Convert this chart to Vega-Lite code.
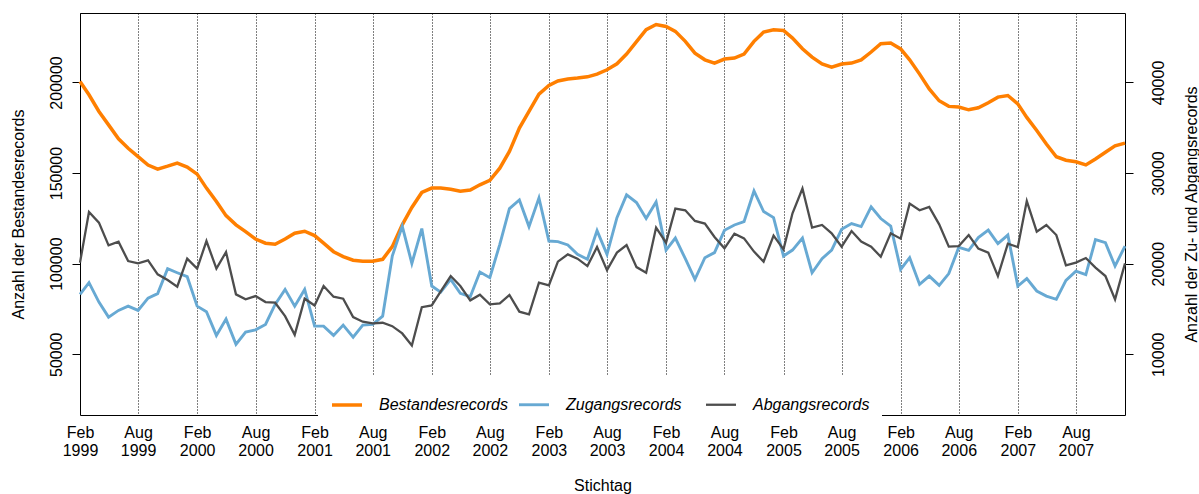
{
  "$schema": "https://vega.github.io/schema/vega-lite/v6.json",
  "width": 1045,
  "height": 402,
  "autosize": {"type": "none"},
  "padding": {"left": 80, "top": 13, "right": 74, "bottom": 79},
  "background": "white",
  "config": {
    "view": {"stroke": null},
    "font": "Liberation Sans",
    "axis": {"domainColor": "black", "tickColor": "black", "labelColor": "black", "titleColor": "black", "labelFont": "Liberation Sans", "titleFont": "Liberation Sans", "labelFontSize": 16, "titleFontSize": 16, "titleFontWeight": "normal"},
    "legend": {"labelFont": "Liberation Sans"}
  },
  "data": {
    "format": {"parse": {"d": "date:'%Y-%m'"}},
    "values": [
      {"d":"1999-02","Bestandesrecords":200500,"Zugangsrecords":16610,"Abgangsrecords":20110},
      {"d":"1999-03","Bestandesrecords":193200,"Zugangsrecords":17900,"Abgangsrecords":25700},
      {"d":"1999-04","Bestandesrecords":184000,"Zugangsrecords":15760,"Abgangsrecords":24530},
      {"d":"1999-05","Bestandesrecords":176600,"Zugangsrecords":14100,"Abgangsrecords":22020},
      {"d":"1999-06","Bestandesrecords":168900,"Zugangsrecords":14840,"Abgangsrecords":22430},
      {"d":"1999-07","Bestandesrecords":163700,"Zugangsrecords":15310,"Abgangsrecords":20290},
      {"d":"1999-08","Bestandesrecords":159100,"Zugangsrecords":14840,"Abgangsrecords":20030},
      {"d":"1999-09","Bestandesrecords":154400,"Zugangsrecords":16200,"Abgangsrecords":20360},
      {"d":"1999-10","Bestandesrecords":152200,"Zugangsrecords":16690,"Abgangsrecords":18820},
      {"d":"1999-11","Bestandesrecords":153800,"Zugangsrecords":19450,"Abgangsrecords":18190},
      {"d":"1999-12","Bestandesrecords":155500,"Zugangsrecords":19000,"Abgangsrecords":17460},
      {"d":"2000-01","Bestandesrecords":153300,"Zugangsrecords":18560,"Abgangsrecords":20550},
      {"d":"2000-02","Bestandesrecords":149400,"Zugangsrecords":15310,"Abgangsrecords":19450},
      {"d":"2000-03","Bestandesrecords":141700,"Zugangsrecords":14700,"Abgangsrecords":22500},
      {"d":"2000-04","Bestandesrecords":134300,"Zugangsrecords":12080,"Abgangsrecords":19450},
      {"d":"2000-05","Bestandesrecords":126500,"Zugangsrecords":13880,"Abgangsrecords":21280},
      {"d":"2000-06","Bestandesrecords":121400,"Zugangsrecords":11090,"Abgangsrecords":16610},
      {"d":"2000-07","Bestandesrecords":117700,"Zugangsrecords":12450,"Abgangsrecords":16060},
      {"d":"2000-08","Bestandesrecords":113600,"Zugangsrecords":12700,"Abgangsrecords":16420},
      {"d":"2000-09","Bestandesrecords":111300,"Zugangsrecords":13290,"Abgangsrecords":15760},
      {"d":"2000-10","Bestandesrecords":110700,"Zugangsrecords":15500,"Abgangsrecords":15690},
      {"d":"2000-11","Bestandesrecords":113600,"Zugangsrecords":17160,"Abgangsrecords":14210},
      {"d":"2000-12","Bestandesrecords":116800,"Zugangsrecords":15310,"Abgangsrecords":12150},
      {"d":"2001-01","Bestandesrecords":117900,"Zugangsrecords":17160,"Abgangsrecords":16130},
      {"d":"2001-02","Bestandesrecords":115500,"Zugangsrecords":13100,"Abgangsrecords":15390},
      {"d":"2001-03","Bestandesrecords":111300,"Zugangsrecords":13100,"Abgangsrecords":17530},
      {"d":"2001-04","Bestandesrecords":106600,"Zugangsrecords":12080,"Abgangsrecords":16350},
      {"d":"2001-05","Bestandesrecords":103900,"Zugangsrecords":13220,"Abgangsrecords":16130},
      {"d":"2001-06","Bestandesrecords":101900,"Zugangsrecords":11890,"Abgangsrecords":14100},
      {"d":"2001-07","Bestandesrecords":101300,"Zugangsrecords":13220,"Abgangsrecords":13590},
      {"d":"2001-08","Bestandesrecords":101300,"Zugangsrecords":13290,"Abgangsrecords":13400},
      {"d":"2001-09","Bestandesrecords":102400,"Zugangsrecords":14210,"Abgangsrecords":13480},
      {"d":"2001-10","Bestandesrecords":109400,"Zugangsrecords":20840,"Abgangsrecords":13100},
      {"d":"2001-11","Bestandesrecords":121400,"Zugangsrecords":24150,"Abgangsrecords":12300},
      {"d":"2001-12","Bestandesrecords":131000,"Zugangsrecords":20030,"Abgangsrecords":10970},
      {"d":"2002-01","Bestandesrecords":139300,"Zugangsrecords":23870,"Abgangsrecords":15200},
      {"d":"2002-02","Bestandesrecords":141700,"Zugangsrecords":17530,"Abgangsrecords":15390},
      {"d":"2002-03","Bestandesrecords":141700,"Zugangsrecords":16860,"Abgangsrecords":16940},
      {"d":"2002-04","Bestandesrecords":141100,"Zugangsrecords":18270,"Abgangsrecords":18630},
      {"d":"2002-05","Bestandesrecords":140000,"Zugangsrecords":16720,"Abgangsrecords":17530},
      {"d":"2002-06","Bestandesrecords":140600,"Zugangsrecords":16350,"Abgangsrecords":15950},
      {"d":"2002-07","Bestandesrecords":143500,"Zugangsrecords":19070,"Abgangsrecords":16580},
      {"d":"2002-08","Bestandesrecords":146000,"Zugangsrecords":18450,"Abgangsrecords":15510},
      {"d":"2002-09","Bestandesrecords":152700,"Zugangsrecords":22130,"Abgangsrecords":15620},
      {"d":"2002-10","Bestandesrecords":161900,"Zugangsrecords":26080,"Abgangsrecords":16540},
      {"d":"2002-11","Bestandesrecords":174800,"Zugangsrecords":27030,"Abgangsrecords":14700},
      {"d":"2002-12","Bestandesrecords":184000,"Zugangsrecords":24090,"Abgangsrecords":14400},
      {"d":"2003-01","Bestandesrecords":193600,"Zugangsrecords":27260,"Abgangsrecords":17900},
      {"d":"2003-02","Bestandesrecords":198300,"Zugangsrecords":22500,"Abgangsrecords":17600},
      {"d":"2003-03","Bestandesrecords":200800,"Zugangsrecords":22430,"Abgangsrecords":20220},
      {"d":"2003-04","Bestandesrecords":201900,"Zugangsrecords":22060,"Abgangsrecords":21030},
      {"d":"2003-05","Bestandesrecords":202400,"Zugangsrecords":21030,"Abgangsrecords":20550},
      {"d":"2003-06","Bestandesrecords":203100,"Zugangsrecords":20480,"Abgangsrecords":19730},
      {"d":"2003-07","Bestandesrecords":204600,"Zugangsrecords":23650,"Abgangsrecords":21830},
      {"d":"2003-08","Bestandesrecords":207000,"Zugangsrecords":21030,"Abgangsrecords":19290},
      {"d":"2003-09","Bestandesrecords":210300,"Zugangsrecords":25080,"Abgangsrecords":21220},
      {"d":"2003-10","Bestandesrecords":215700,"Zugangsrecords":27590,"Abgangsrecords":22060},
      {"d":"2003-11","Bestandesrecords":222500,"Zugangsrecords":26750,"Abgangsrecords":19620},
      {"d":"2003-12","Bestandesrecords":229100,"Zugangsrecords":24980,"Abgangsrecords":19000},
      {"d":"2004-01","Bestandesrecords":232000,"Zugangsrecords":26810,"Abgangsrecords":23980},
      {"d":"2004-02","Bestandesrecords":230900,"Zugangsrecords":21500,"Abgangsrecords":22320},
      {"d":"2004-03","Bestandesrecords":228200,"Zugangsrecords":22830,"Abgangsrecords":26080},
      {"d":"2004-04","Bestandesrecords":222700,"Zugangsrecords":20550,"Abgangsrecords":25890},
      {"d":"2004-05","Bestandesrecords":216200,"Zugangsrecords":18270,"Abgangsrecords":24710},
      {"d":"2004-06","Bestandesrecords":212500,"Zugangsrecords":20660,"Abgangsrecords":24420},
      {"d":"2004-07","Bestandesrecords":210700,"Zugangsrecords":21220,"Abgangsrecords":22940},
      {"d":"2004-08","Bestandesrecords":212900,"Zugangsrecords":23680,"Abgangsrecords":21690},
      {"d":"2004-09","Bestandesrecords":213500,"Zugangsrecords":24270,"Abgangsrecords":23310},
      {"d":"2004-10","Bestandesrecords":215700,"Zugangsrecords":24640,"Abgangsrecords":22790},
      {"d":"2004-11","Bestandesrecords":222700,"Zugangsrecords":28020,"Abgangsrecords":21330},
      {"d":"2004-12","Bestandesrecords":227800,"Zugangsrecords":25750,"Abgangsrecords":20220},
      {"d":"2005-01","Bestandesrecords":229100,"Zugangsrecords":25080,"Abgangsrecords":23090},
      {"d":"2005-02","Bestandesrecords":228700,"Zugangsrecords":20840,"Abgangsrecords":21580},
      {"d":"2005-03","Bestandesrecords":224500,"Zugangsrecords":21500,"Abgangsrecords":25560},
      {"d":"2005-04","Bestandesrecords":218600,"Zugangsrecords":22830,"Abgangsrecords":28290},
      {"d":"2005-05","Bestandesrecords":214000,"Zugangsrecords":19000,"Abgangsrecords":23980},
      {"d":"2005-06","Bestandesrecords":210200,"Zugangsrecords":20550,"Abgangsrecords":24270},
      {"d":"2005-07","Bestandesrecords":208500,"Zugangsrecords":21500,"Abgangsrecords":23350},
      {"d":"2005-08","Bestandesrecords":210200,"Zugangsrecords":23790,"Abgangsrecords":21880},
      {"d":"2005-09","Bestandesrecords":210700,"Zugangsrecords":24420,"Abgangsrecords":23600},
      {"d":"2005-10","Bestandesrecords":212400,"Zugangsrecords":24090,"Abgangsrecords":22430},
      {"d":"2005-11","Bestandesrecords":216800,"Zugangsrecords":26260,"Abgangsrecords":21880},
      {"d":"2005-12","Bestandesrecords":221400,"Zugangsrecords":24980,"Abgangsrecords":20770},
      {"d":"2006-01","Bestandesrecords":221800,"Zugangsrecords":24150,"Abgangsrecords":23350},
      {"d":"2006-02","Bestandesrecords":218500,"Zugangsrecords":19370,"Abgangsrecords":22760},
      {"d":"2006-03","Bestandesrecords":212500,"Zugangsrecords":20660,"Abgangsrecords":26630},
      {"d":"2006-04","Bestandesrecords":204600,"Zugangsrecords":17710,"Abgangsrecords":25890},
      {"d":"2006-05","Bestandesrecords":196400,"Zugangsrecords":18630,"Abgangsrecords":26260},
      {"d":"2006-06","Bestandesrecords":189900,"Zugangsrecords":17600,"Abgangsrecords":24340},
      {"d":"2006-07","Bestandesrecords":186800,"Zugangsrecords":18900,"Abgangsrecords":21880},
      {"d":"2006-08","Bestandesrecords":186400,"Zugangsrecords":21800,"Abgangsrecords":21940},
      {"d":"2006-09","Bestandesrecords":184900,"Zugangsrecords":21470,"Abgangsrecords":23160},
      {"d":"2006-10","Bestandesrecords":186000,"Zugangsrecords":22870,"Abgangsrecords":21660},
      {"d":"2006-11","Bestandesrecords":188800,"Zugangsrecords":23710,"Abgangsrecords":21220},
      {"d":"2006-12","Bestandesrecords":191900,"Zugangsrecords":22210,"Abgangsrecords":18630},
      {"d":"2007-01","Bestandesrecords":192800,"Zugangsrecords":23160,"Abgangsrecords":22210},
      {"d":"2007-02","Bestandesrecords":188200,"Zugangsrecords":17530,"Abgangsrecords":21830},
      {"d":"2007-03","Bestandesrecords":180700,"Zugangsrecords":18350,"Abgangsrecords":26910},
      {"d":"2007-04","Bestandesrecords":173500,"Zugangsrecords":16980,"Abgangsrecords":23530},
      {"d":"2007-05","Bestandesrecords":166000,"Zugangsrecords":16420,"Abgangsrecords":24270},
      {"d":"2007-06","Bestandesrecords":159000,"Zugangsrecords":16060,"Abgangsrecords":23160},
      {"d":"2007-07","Bestandesrecords":157100,"Zugangsrecords":18160,"Abgangsrecords":19810},
      {"d":"2007-08","Bestandesrecords":156200,"Zugangsrecords":19180,"Abgangsrecords":20110},
      {"d":"2007-09","Bestandesrecords":154500,"Zugangsrecords":18780,"Abgangsrecords":20620},
      {"d":"2007-10","Bestandesrecords":157800,"Zugangsrecords":22650,"Abgangsrecords":19560},
      {"d":"2007-11","Bestandesrecords":161500,"Zugangsrecords":22320,"Abgangsrecords":18630},
      {"d":"2007-12","Bestandesrecords":165000,"Zugangsrecords":19730,"Abgangsrecords":16060},
      {"d":"2008-01","Bestandesrecords":166500,"Zugangsrecords":21940,"Abgangsrecords":20030}
    ]
  },
  "layer": [
    {
      "transform": [{"fold": ["Bestandesrecords"], "as": ["series", "value"]}],
      "mark": {"type": "line"},
      "encoding": {
        "x": {
          "field": "d", "type": "temporal",
          "scale": {"domain": [{"year": 1999, "month": 2, "date": 1}, {"year": 2008, "month": 1, "date": 1}]},
          "axis": {
            "orient": "bottom",
            "values": [
              {"year": 1999, "month": 2, "date": 1}, {"year": 1999, "month": 8, "date": 1},
              {"year": 2000, "month": 2, "date": 1}, {"year": 2000, "month": 8, "date": 1},
              {"year": 2001, "month": 2, "date": 1}, {"year": 2001, "month": 8, "date": 1},
              {"year": 2002, "month": 2, "date": 1}, {"year": 2002, "month": 8, "date": 1},
              {"year": 2003, "month": 2, "date": 1}, {"year": 2003, "month": 8, "date": 1},
              {"year": 2004, "month": 2, "date": 1}, {"year": 2004, "month": 8, "date": 1},
              {"year": 2005, "month": 2, "date": 1}, {"year": 2005, "month": 8, "date": 1},
              {"year": 2006, "month": 2, "date": 1}, {"year": 2006, "month": 8, "date": 1},
              {"year": 2007, "month": 2, "date": 1}, {"year": 2007, "month": 8, "date": 1}
            ],
            "labelExpr": "[timeFormat(datum.value, '%b'), timeFormat(datum.value, '%Y')]",
            "labelLineHeight": 18.3,
            "labelBaseline": "top",
            "labelAlign": "center",
            "labelPadding": 9.5,
            "labelFlush": false,
            "labelOverlap": false,
            "ticks": false,
            "tickSize": 0,
            "domain": true,
            "grid": true,
            "gridColor": "#000000",
            "gridDash": [1, 2],
            "gridWidth": 1,
            "title": "Stichtag",
            "titleX": 522.5,
            "titleY": 75,
            "titleBaseline": "alphabetic",
            "titleAlign": "center"
          }
        },
        "y": {
          "field": "value", "type": "quantitative",
          "scale": {"domain": [16480, 238330], "nice": false, "zero": false},
          "axis": {
            "orient": "left",
            "values": [50000, 100000, 150000, 200000],
            "format": "d",
            "grid": false,
            "tickSize": 8,
            "labelAngle": 270,
            "labelAlign": "center",
            "labelBaseline": "middle",
            "labelPadding": 16,
            "title": "Anzahl der Bestandesrecords",
            "titleAngle": 270,
            "titleAlign": "center",
            "titleBaseline": "middle",
            "titleX": -61.6,
            "titleY": 201
          }
        },
        "color": {
          "field": "series", "type": "nominal",
          "scale": {"domain": ["Bestandesrecords", "Zugangsrecords", "Abgangsrecords"], "range": ["#FF7F00", "#67A9D3", "#4D4D4D"]},
          "legend": {
            "orient": "none", "legendX": 238, "legendY": 363, "direction": "horizontal", "columns": 3,
            "gridAlign": "all", "columnPadding": 5, "padding": 12, "fillColor": "white", "title": null,
            "labelFontSize": 16, "labelFontStyle": "italic", "labelColor": "black", "labelOffset": 15,
            "symbolType": "stroke", "symbolSize": 900
          }
        },
        "strokeWidth": {
          "field": "series", "type": "ordinal",
          "scale": {"domain": ["Bestandesrecords", "Zugangsrecords", "Abgangsrecords"], "range": [3.5, 2.3, 2.3]},
          "legend": {
            "orient": "none", "legendX": 238, "legendY": 363, "direction": "horizontal", "columns": 3,
            "gridAlign": "all", "columnPadding": 5, "padding": 12, "fillColor": "white", "title": null,
            "labelFontSize": 16, "labelFontStyle": "italic", "labelColor": "black", "labelOffset": 15,
            "symbolType": "stroke", "symbolSize": 900
          }
        }
      }
    },
    {
      "transform": [{"fold": ["Zugangsrecords", "Abgangsrecords"], "as": ["series", "value"]}],
      "mark": {"type": "line"},
      "encoding": {
        "x": {
          "field": "d", "type": "temporal",
          "axis": {"orient": "top", "labels": false, "ticks": false, "grid": false, "domain": true, "title": null}
        },
        "y": {
          "field": "value", "type": "quantitative",
          "scale": {"domain": [3296, 47666], "nice": false, "zero": false},
          "axis": {
            "orient": "right",
            "values": [10000, 20000, 30000, 40000],
            "format": "d",
            "grid": false,
            "tickSize": 8,
            "labelAngle": 270,
            "labelAlign": "center",
            "labelBaseline": "middle",
            "labelPadding": 25,
            "title": "Anzahl der Zu- und Abgangsrecords",
            "titleAngle": 270,
            "titleAlign": "center",
            "titleBaseline": "middle",
            "titleX": 66.6,
            "titleY": 201
          }
        },
        "color": {"field": "series", "type": "nominal"},
        "strokeWidth": {"field": "series", "type": "ordinal"}
      }
    }
  ],
  "resolve": {"scale": {"y": "independent"}, "axis": {"x": "independent", "y": "independent"}}
}
